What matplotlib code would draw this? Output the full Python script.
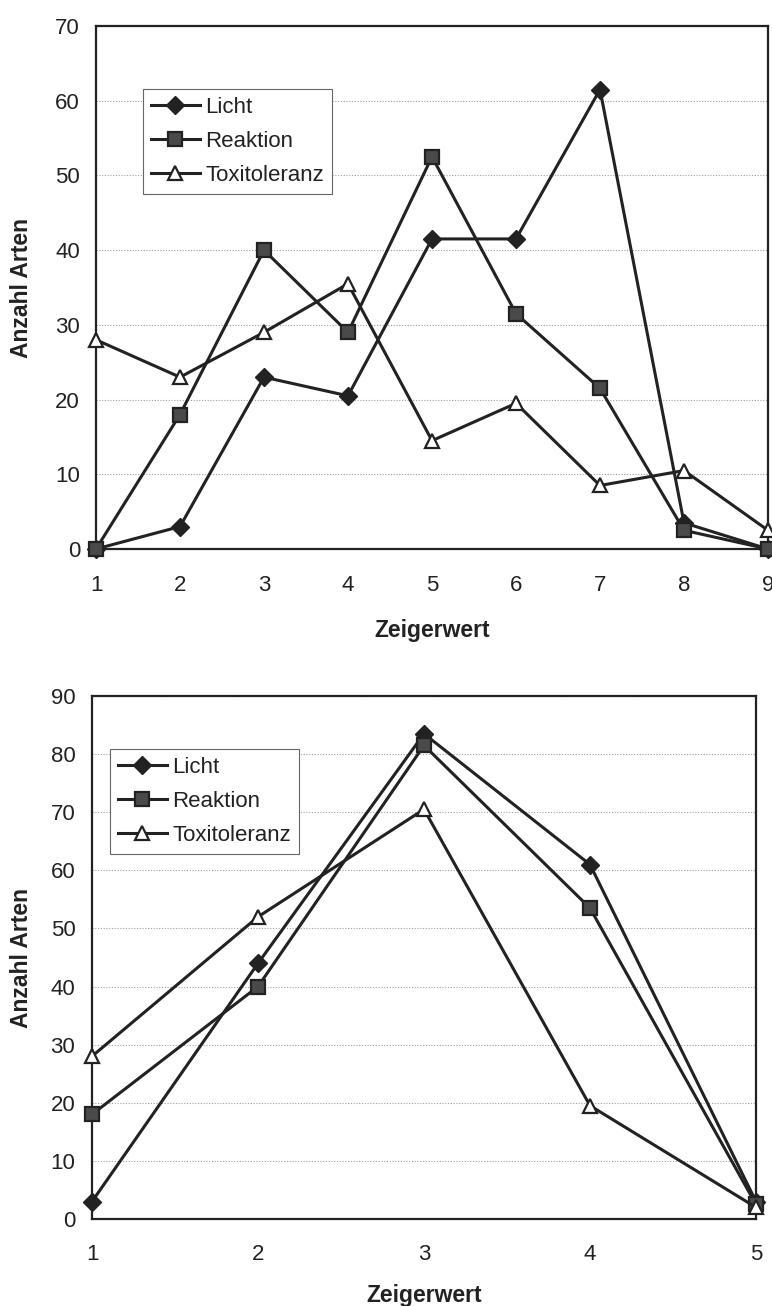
import matplotlib
matplotlib.use("Agg")
import matplotlib.pyplot as plt

plt.rcParams['font.family'] = ['Liberation Sans', 'DejaVu Sans']

# ---- data ----
series_names = ["Licht", "Reaktion", "Toxitoleranz"]

x_top = [1, 2, 3, 4, 5, 6, 7, 8, 9]
licht_top = [0, 3, 23, 20.5, 41.5, 41.5, 61.5, 3.5, 0]
reaktion_top = [0, 18, 40, 29, 52.5, 31.5, 21.5, 2.5, 0]
toxi_top = [28, 23, 29, 35.5, 14.5, 19.5, 8.5, 10.5, 2.5]

x_bot = [1, 2, 3, 4, 5]
licht_bot = [3, 44, 83.5, 61, 3]
reaktion_bot = [18, 40, 81.5, 53.5, 2.5]
toxi_bot = [28, 52, 70.5, 19.5, 2]

xlabel = "Zeigerwert"
ylabel = "Anzahl Arten"

W, H = 772, 1306
fig = plt.figure(figsize=(W / 100, H / 100), dpi=100)

INK = '#222222'
styles = [
    dict(marker='D', markersize=9, markerfacecolor=INK, markeredgecolor=INK),
    dict(marker='s', markersize=9.5, markerfacecolor='#4a4a4a', markeredgecolor=INK, markeredgewidth=1.6),
    dict(marker='^', markersize=10, markerfacecolor='white', markeredgecolor=INK, markeredgewidth=1.6),
]


def draw(ax_rect, xs, ys_list, ymax, legend_anchor, xpad, ypad, label_y, ylabel_x):
    ax = fig.add_axes(ax_rect)
    for ys, name, st in zip(ys_list, series_names, styles):
        ax.plot(xs, ys, color=INK, linewidth=2.2, label=name, clip_on=False, zorder=3, **st)
    ax.set_xlim(xs[0], xs[-1])
    ax.set_ylim(0, ymax)
    ax.set_xticks(xs)
    ax.set_yticks(range(0, ymax + 1, 10))
    ax.yaxis.grid(True, linestyle=(0, (1, 1.5)), color='#a0a0a0', linewidth=0.8)
    ax.set_axisbelow(True)
    for s in ax.spines.values():
        s.set_linewidth(1.6)
        s.set_color(INK)
    ax.tick_params(axis='both', length=0, labelsize=16, labelcolor=INK)
    ax.tick_params(axis='x', pad=xpad)
    ax.tick_params(axis='y', pad=ypad)
    ax.set_xlabel(xlabel, fontsize=16.5, fontweight='bold', color=INK)
    ax.xaxis.set_label_coords(0.5, label_y)
    ax.set_ylabel(ylabel, fontsize=16.5, fontweight='bold', color=INK)
    ax.yaxis.set_label_coords(ylabel_x, 0.5)
    leg = ax.legend(loc='upper left', bbox_to_anchor=legend_anchor, borderaxespad=0,
                    fontsize=16, handlelength=2.2, handletextpad=0.25, labelspacing=0.6,
                    fancybox=False, framealpha=1, edgecolor='#666666', borderpad=0.35)
    leg.get_frame().set_linewidth(0.8)
    for t in leg.get_texts():
        t.set_color(INK)
    return ax


# top chart
draw([96 / W, 1 - 549 / H, 672 / W, 523 / H], x_top,
     [licht_top, reaktion_top, toxi_top], 70, (0.070, 0.880), 19, 11.5, -0.134, -0.094)

# bottom chart
draw([92 / W, 1 - 1219 / H, 664 / W, 523 / H], x_bot,
     [licht_bot, reaktion_bot, toxi_bot], 90, (0.027, 0.899), 18, 12, -0.124, -0.089)

fig.savefig("out.png", dpi=100)
